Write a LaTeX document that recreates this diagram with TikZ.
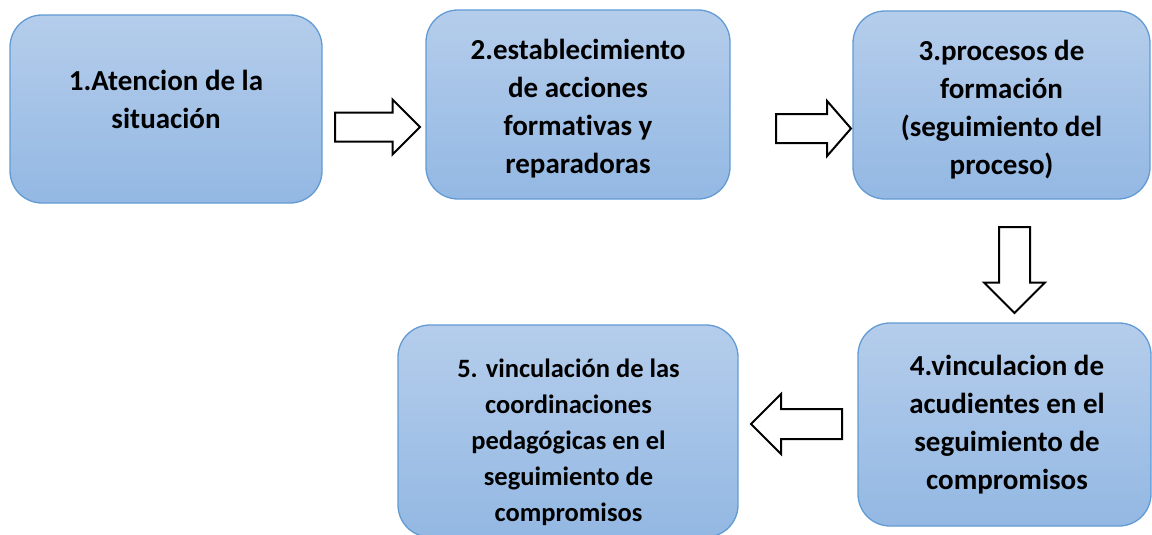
\documentclass[tikz,border=0pt]{standalone}
\usepackage{fontspec}
\setmainfont{Carlito}[Ligatures=NoCommon]
\usetikzlibrary{shapes.arrows}
\definecolor{boxtop}{RGB}{181,205,235}
\definecolor{boxbot}{RGB}{147,184,227}
\definecolor{boxline}{RGB}{98,155,212}
\tikzset{
  stepbox/.style={draw=boxline, line width=1.3pt, rounded corners=32pt,
    top color=boxtop, bottom color=boxbot, inner sep=0pt, rectangle},
  steptext/.style={align=center, font=\fontsize{29}{38}\selectfont\bfseries, inner sep=0pt},
  blockarrow/.style={single arrow, draw=black, fill=white, line width=2pt,
    inner xsep=0pt, outer sep=0pt, single arrow head indent=0pt, anchor=tail}
}
\begin{document}
\begin{tikzpicture}[x=1pt,y=-1pt]
\useasboundingbox (0,0) rectangle (1152,535);
% boxes
\node[stepbox, minimum width=312pt, minimum height=188pt] (b1) at (166,109) {};
\node[stepbox, minimum width=304pt, minimum height=189pt] (b2) at (578,104.5) {};
\node[stepbox, minimum width=297pt, minimum height=188pt] (b3) at (1001.5,105) {};
\node[stepbox, minimum width=293pt, minimum height=203pt] (b4) at (1004.5,424.5) {};
\node[stepbox, minimum width=340pt, minimum height=212pt] (b5) at (568,431) {};
% texts
\node[steptext] (t1) at (166,99) {1.Atencion de la\\situación};
\node[steptext] (t2) at (578,108.5) {2.establecimiento\\de acciones\\formativas y\\reparadoras};
\node[steptext] (t3) at (1001.5,110) {3.procesos de\\formación\\(seguimiento del\\proceso)};
\node[steptext] (t4) at (1007,425) {4.vinculacion de\\acudientes en el\\seguimiento de\\compromisos};
\node[steptext, font=\fontsize{26.5}{36}\selectfont\bfseries] (t5) at (568.5,442) {5. vinculación de las\\coordinaciones\\pedagógicas en el\\seguimiento de\\compromisos};
% block arrows
\node[blockarrow, inner ysep=13.5pt, minimum height=85pt, single arrow head extend=13pt] (a1) at (335,127) {};
\node[blockarrow, inner ysep=13.5pt, minimum height=75pt, single arrow head extend=13pt, single arrow tip angle=98] (a2) at (776,128.5) {};
\node[blockarrow, inner ysep=14.5pt, minimum height=86pt, single arrow head extend=15pt, rotate=-90] (a3) at (1014.5,227) {};
\node[blockarrow, inner ysep=14pt, minimum height=91pt, single arrow head extend=15pt, rotate=180] (a4) at (842,424) {};
\end{tikzpicture}
\end{document}
